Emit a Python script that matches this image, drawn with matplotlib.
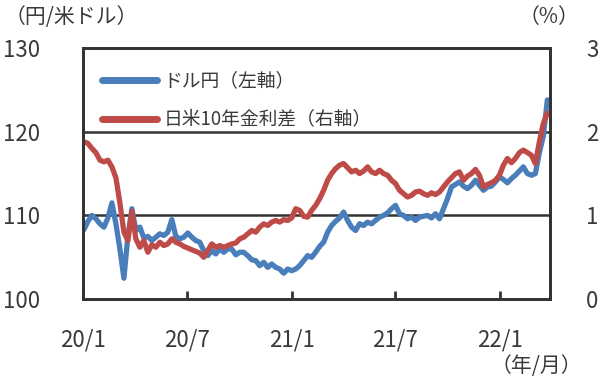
import numpy as np
import pandas as pd
import matplotlib
matplotlib.use("Agg")
import matplotlib.pyplot as plt
import matplotlib.dates as mdates

plt.rcParams['font.family'] = ['Noto Sans CJK JP', 'DejaVu Sans']

# weekly readings, 2020-01-03 .. 2022-03-25
dates = pd.date_range("2020-01-03", periods=117, freq="7D")

usdjpy = [
    108.3, 109.3, 110.0, 109.6, 109.0, 108.6, 109.7, 111.5, 109.0, 106.0,
    102.5, 107.5, 110.8, 108.2, 108.6, 107.3, 107.5, 107.0, 107.4, 107.8,
    107.6, 108.0, 109.5, 107.5, 107.2, 107.4, 107.9, 107.4, 107.0, 106.8,
    105.8, 105.2, 105.8, 105.4, 106.0, 105.6, 106.0, 106.0, 105.3, 105.6,
    105.6, 105.2, 104.7, 104.6, 104.0, 104.4, 103.8, 104.2, 103.8, 103.6,
    103.1, 103.6, 103.4, 103.6, 104.0, 104.6, 105.2, 105.0, 105.6, 106.3,
    106.8, 108.0, 108.8, 109.3, 109.7, 110.4, 109.4, 108.6, 108.2, 109.0,
    108.8, 109.2, 109.0, 109.4, 109.8, 110.0, 110.3, 110.8, 111.2, 110.2,
    110.0, 109.6, 109.8, 109.4, 109.8, 109.9, 110.0, 109.7, 110.2, 109.6,
    110.8, 112.0, 113.4, 113.7, 114.0, 113.5, 113.2, 113.6, 114.2, 113.6,
    113.0, 113.4, 113.5, 114.0, 114.6, 114.3, 113.9, 114.4, 114.8, 115.3,
    115.8, 115.0, 114.8, 115.0, 117.5, 119.5, 123.8,
]

spread = [
    1.88, 1.86, 1.80, 1.75, 1.66, 1.64, 1.66, 1.58, 1.45, 1.15,
    0.80, 0.70, 1.05, 0.72, 0.62, 0.70, 0.56, 0.65, 0.62, 0.68,
    0.64, 0.66, 0.72, 0.68, 0.66, 0.63, 0.61, 0.59, 0.57, 0.55,
    0.50, 0.58, 0.66, 0.62, 0.64, 0.62, 0.64, 0.66, 0.67, 0.72,
    0.74, 0.78, 0.82, 0.80, 0.86, 0.90, 0.88, 0.92, 0.94, 0.92,
    0.95, 0.94, 0.97, 1.08, 1.06, 0.99, 0.98, 1.06, 1.12, 1.20,
    1.30, 1.42, 1.50, 1.56, 1.60, 1.62, 1.57, 1.52, 1.54, 1.50,
    1.53, 1.58, 1.52, 1.50, 1.54, 1.50, 1.48, 1.42, 1.38, 1.30,
    1.26, 1.22, 1.24, 1.28, 1.29, 1.26, 1.24, 1.27, 1.25, 1.28,
    1.34, 1.40, 1.45, 1.50, 1.52, 1.42, 1.47, 1.50, 1.55, 1.48,
    1.34, 1.37, 1.39, 1.42, 1.48, 1.60, 1.68, 1.63, 1.68, 1.75,
    1.78, 1.75, 1.72, 1.62, 1.88, 2.10, 2.22,
]

tick_dates = ["2020-01-01", "2020-07-01", "2021-01-01", "2021-07-01", "2022-01-01"]
tick_labels = ["20/1", "20/7", "21/1", "21/7", "22/1"]

BLUE = "#4a7ebb"
RED = "#be4b48"
DARK = "#333333"
TXT = "#3a3a3a"

fig = plt.figure(figsize=(6.0, 3.87), dpi=100)
ax = fig.add_axes([0.138, 0.227, 0.779, 0.649])
ax2 = ax.twinx()

l1, = ax.plot(dates, usdjpy, color=BLUE, lw=3.8, solid_capstyle="round",
              solid_joinstyle="round", label="ドル円（左軸）")
l2, = ax2.plot(dates, spread, color=RED, lw=3.8, solid_capstyle="round",
               solid_joinstyle="round", label="日米10年金利差（右軸）")

ax.set_ylim(100, 130)
ax.set_yticks([100, 110, 120, 130])
ax2.set_ylim(0, 3)
ax2.set_yticks([0, 1, 2, 3])
ax.set_xlim(pd.Timestamp("2020-01-01"), pd.Timestamp("2022-03-30"))
ax.set_xticks(pd.to_datetime(tick_dates))
ax.set_xticklabels(tick_labels)

for y in (110, 120):
    ax.axhline(y, color=DARK, lw=1.8, zorder=1)

for a in (ax, ax2):
    for s in a.spines.values():
        s.set_color(DARK)
        s.set_linewidth(2)

ax.tick_params(axis="x", direction="in", length=6, width=2, color=DARK,
               pad=21, labelsize=16, labelcolor=TXT)
ax.tick_params(axis="y", length=0, pad=31, labelsize=16, labelcolor=TXT)
ax2.tick_params(axis="y", length=0, pad=26, labelsize=16, labelcolor=TXT)

leg = ax2.legend(handles=[l1, l2], loc="upper left", bbox_to_anchor=(0.01, 0.97),
                 frameon=False, fontsize=13.5, handlelength=2.9,
                 borderaxespad=0.4, labelspacing=0.95, handletextpad=0.35)
for h in leg.get_lines():
    h.set_linewidth(5)
for t in leg.get_texts():
    t.set_color(TXT)

fig.text(0.008, 0.985, "（円/米ドル）", fontsize=15, color=TXT, va="top", ha="left")
fig.text(0.965, 0.985, "（%）", fontsize=15, color=TXT, va="top", ha="right")
fig.text(0.97, 0.025, "（年/月）", fontsize=15, color=TXT, va="bottom", ha="right")

fig.savefig("out.png", dpi=100)
